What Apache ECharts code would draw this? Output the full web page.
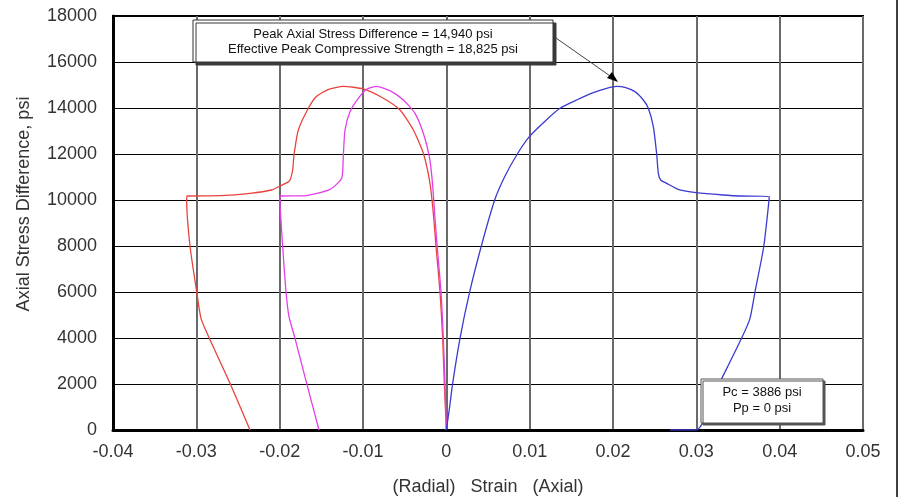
<!DOCTYPE html>
<html>
<head>
<meta charset="utf-8">
<script src="https://cdn.jsdelivr.net/npm/echarts@6/dist/echarts.min.js"></script>
<style>html,body{margin:0;padding:0;background:#fff;}#c{width:898px;height:497px;}</style>
</head>
<body>
<div id="c"></div>
<script>
// ---- data ----
var xTickLabels = ['-0.04','-0.03','-0.02','-0.01','0','0.01','0.02','0.03','0.04','0.05'];
var yTickLabels = ['0','2000','4000','6000','8000','10000','12000','14000','16000','18000'];

// radial strain, sample 1 (red): [strain, stress psi]
var radialRed = [
  [0,0],[-0.00024,2000],[-0.00044,4000],[-0.00076,6000],[-0.00124,8000],[-0.00156,9420],
  [-0.00196,10725],[-0.00276,12030],[-0.00396,13044],[-0.00556,13914],[-0.00756,14422],
  [-0.00996,14827],[-0.01236,14940],[-0.01420,14800],[-0.01560,14500],[-0.01656,13987],[-0.01776,13044],
  [-0.01828,11957],[-0.01844,11304],[-0.01884,10826],[-0.01996,10609],[-0.02096,10435],
  [-0.02356,10290],[-0.02716,10190],[-0.0311,10174],[-0.03116,10000],[-0.03076,8000],
  [-0.02996,6014],[-0.02944,4855],[-0.02844,3986],[-0.02596,2029],[-0.02356,0]
];
// radial strain, sample 2 (magenta)
var radialMagenta = [
  [0,0],[-0.00016,2000],[-0.00036,4000],[-0.00064,6000],[-0.0011,8000],[-0.0014,9400],
  [-0.00166,10725],[-0.00204,11884],[-0.00276,12900],[-0.00376,13769],[-0.00516,14348],
  [-0.00676,14754],[-0.00836,14940],[-0.00956,14813],[-0.01056,14422],[-0.01156,13841],
  [-0.01216,13044],[-0.01236,11957],[-0.01256,10942],[-0.01396,10464],[-0.01716,10180],
  [-0.01984,10174],[-0.01996,10000],[-0.01964,8000],[-0.01924,6014],[-0.01888,4926],
  [-0.01816,3986],[-0.01676,2029],[-0.01528,0]
];
// axial strain (blue)
var axialBlue = [
  [0,0],[0.0004,1013],[0.00076,2029],[0.00164,3986],[0.00276,5943],[0.0042,8000],
  [0.0058,10000],[0.0070,11014],[0.00852,12000],[0.00996,12753],[0.0120,13479],
  [0.01364,13987],[0.01564,14348],[0.01764,14667],[0.01924,14856],[0.02044,14940],
  [0.02144,14900],[0.02264,14711],[0.02364,14348],[0.02424,13987],[0.02484,13189],
  [0.02524,12000],[0.02544,11160],[0.02572,10870],[0.02644,10725],[0.0280,10435],
  [0.0300,10319],[0.0332,10218],[0.0352,10174],[0.03876,10150],[0.0381,8000],
  [0.03704,6000],[0.03644,4855],[0.03544,4000],[0.0330,2203],[0.0300,0],[0.02684,0]
];

var peakText = ['Peak Axial Stress Difference = 14,940 psi','Effective Peak Compressive Strength = 18,825 psi'];
var pressureText = ['Pc = 3886 psi','Pp = 0 psi'];

// ---- chart ----
var FONT = '"Liberation Sans", Arial, sans-serif';
var chart = echarts.init(document.getElementById('c'), null, {renderer:'canvas'});
var option = {
  animation: false,
  backgroundColor: '#fff',
  grid: {left:113, right:35, top:16, bottom:67, outerBoundsMode:'none', containLabel:false,
    show:true, borderColor:'#000', borderWidth:2, backgroundColor:'transparent'},
  xAxis: {
    type:'value', min:-0.04, max:0.05, interval:0.01,
    name:'(Radial)   Strain   (Axial)', nameLocation:'middle', nameGap:48,
    nameTextStyle:{fontFamily:FONT, fontSize:18, color:'#333'},
    axisLine:{show:true, onZero:false, lineStyle:{color:'#000', width:3}},
    axisTick:{show:false},
    axisLabel:{fontFamily:FONT, fontSize:18, color:'#333', margin:13,
      formatter:function(v){ var i=Math.round((v+0.04)/0.01); return xTickLabels[i]; }},
    splitLine:{show:true, lineStyle:{color:'#6a6a6a', width:2}}
  },
  yAxis: {
    type:'value', min:0, max:18000, interval:2000,
    axisLine:{show:true, onZero:false, lineStyle:{color:'#000', width:3}},
    axisTick:{show:false},
    axisLabel:{fontFamily:FONT, fontSize:18, color:'#333', margin:16,
      formatter:function(v){ return yTickLabels[Math.round(v/2000)]; }},
    splitLine:{show:true, lineStyle:{color:'#000', width:1}}
  },
  series: [
    {type:'line', data:radialRed, showSymbol:false, symbol:'none', smooth:0.2, lineStyle:{color:'#e8443c', width:1.3}, z:3},
    {type:'line', data:radialMagenta, showSymbol:false, symbol:'none', smooth:0.2, lineStyle:{color:'#e43ee8', width:1.3}, z:4},
    {type:'line', data:axialBlue, showSymbol:false, symbol:'none', smooth:0.2, lineStyle:{color:'#3b3bd0', width:1.3}, z:5}
  ],
  graphic: [
    {type:'text', x:24, y:204, rotation:Math.PI/2,
      style:{text:'Axial Stress Difference, psi', font:'18px '+FONT, fill:'#333', textAlign:'center', textVerticalAlign:'middle'}, z:10},
    {type:'line', shape:{x1:897, y1:0, x2:897, y2:497}, style:{stroke:'#000', lineWidth:1.5}, z:10},
    // peak annotation box
    {type:'rect', shape:{x:193, y:20, width:360, height:42},
      style:{fill:'#fff', stroke:'#333', lineWidth:1, shadowColor:'#3a3a3a', shadowOffsetX:3, shadowOffsetY:3, shadowBlur:0}, z:20},
    {type:'text', x:373, y:34, style:{text:peakText[0], font:'13px '+FONT, fill:'#111', textAlign:'center', textVerticalAlign:'middle'}, z:21},
    {type:'text', x:373, y:49, style:{text:peakText[1], font:'13px '+FONT, fill:'#111', textAlign:'center', textVerticalAlign:'middle'}, z:21},
    {type:'line', shape:{x1:556, y1:38, x2:613, y2:78}, style:{stroke:'#444', lineWidth:1}, z:21},
    {type:'polygon', shape:{points:[[618,82],[607,78],[612,72]]}, style:{fill:'#000'}, z:21},
    // pressure box
    {type:'rect', shape:{x:701, y:379, width:122, height:44},
      style:{fill:'#fff', stroke:'#555', lineWidth:1, shadowColor:'#555', shadowOffsetX:2, shadowOffsetY:2, shadowBlur:0}, z:20},
    {type:'text', x:762, y:392, style:{text:pressureText[0], font:'13px '+FONT, fill:'#111', textAlign:'center', textVerticalAlign:'middle'}, z:21},
    {type:'text', x:762, y:408, style:{text:pressureText[1], font:'13px '+FONT, fill:'#111', textAlign:'center', textVerticalAlign:'middle'}, z:21}
  ]
};
chart.setOption(option);
</script>
</body>
</html>
